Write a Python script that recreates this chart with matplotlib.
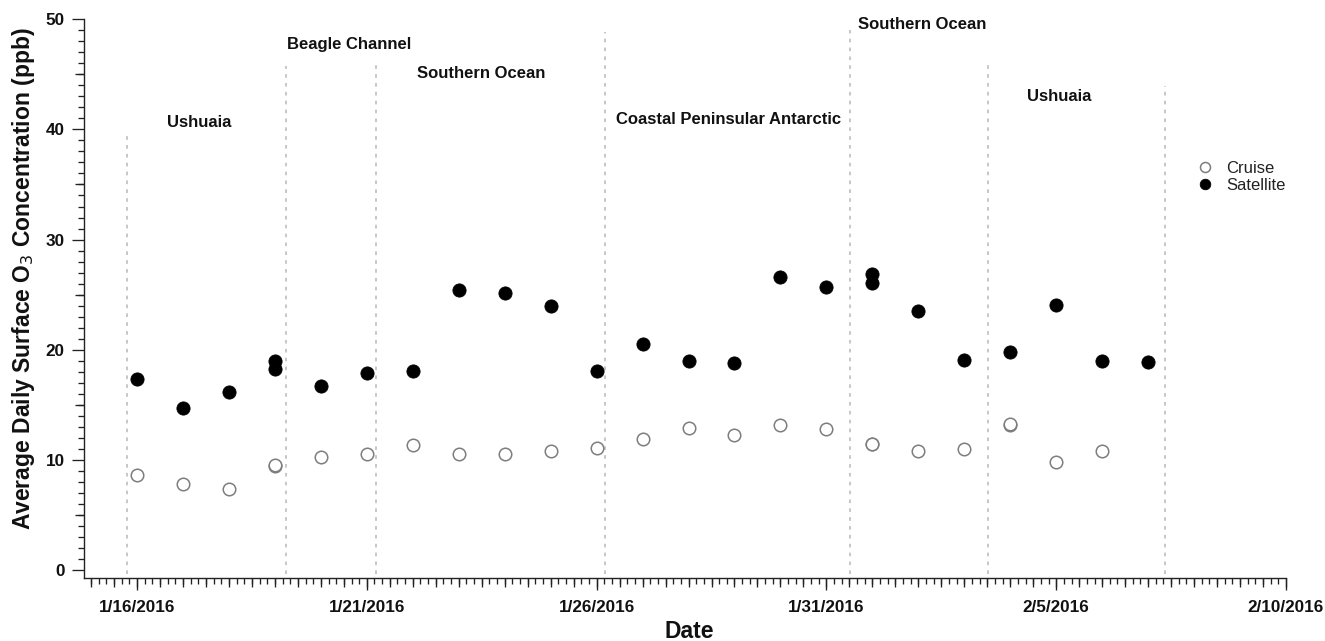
import numpy as np
import matplotlib
matplotlib.use("Agg")
import matplotlib.pyplot as plt
import matplotlib.dates as mdates
from matplotlib.ticker import FixedLocator, MultipleLocator, NullFormatter

plt.rcParams['font.family'] = ['Liberation Sans', 'DejaVu Sans']

# ---- data -------------------------------------------------------------
sat_dates = ['2016-01-16', '2016-01-17', '2016-01-18', '2016-01-19', '2016-01-19',
             '2016-01-20', '2016-01-21', '2016-01-22', '2016-01-23', '2016-01-24',
             '2016-01-25', '2016-01-26', '2016-01-27', '2016-01-28', '2016-01-29',
             '2016-01-30', '2016-01-31', '2016-02-01', '2016-02-01', '2016-02-02',
             '2016-02-03', '2016-02-04', '2016-02-05', '2016-02-06', '2016-02-07']
sat_o3 = [17.4, 14.7, 16.2, 19.0, 18.3,
          16.7, 17.9, 18.1, 25.4, 25.2,
          24.0, 18.1, 20.5, 19.0, 18.8,
          26.6, 25.7, 26.9, 26.1, 23.5,
          19.1, 19.8, 24.1, 19.0, 18.9]

cruise_dates = ['2016-01-16', '2016-01-17', '2016-01-18', '2016-01-19', '2016-01-19',
                '2016-01-20', '2016-01-21', '2016-01-22', '2016-01-23', '2016-01-24',
                '2016-01-25', '2016-01-26', '2016-01-27', '2016-01-28', '2016-01-29',
                '2016-01-30', '2016-01-31', '2016-02-01', '2016-02-01', '2016-02-02',
                '2016-02-03', '2016-02-04', '2016-02-04', '2016-02-05', '2016-02-06']
cruise_o3 = [8.7, 7.85, 7.4, 9.5, 9.55,
             10.25, 10.55, 11.4, 10.55, 10.6,
             10.8, 11.15, 11.95, 12.95, 12.25,
             13.2, 12.8, 11.45, 11.5, 10.8,
             11.0, 13.2, 13.25, 9.85, 10.85]

# region boundaries (dashed lines) and their heights
boundary_times = ['2016-01-15T19:00', '2016-01-19T06:00', '2016-01-21T05:00',
                  '2016-01-26T04:30', '2016-01-31T12:30', '2016-02-03T12:30',
                  '2016-02-07T08:40']
boundary_tops = [39.8, 45.7, 46.2, 48.8, 49.0, 46.3, 43.9]

# region names
region_names = ['Ushuaia', 'Beagle Channel', 'Southern Ocean',
                'Coastal Peninsular Antarctic', 'Southern Ocean', 'Ushuaia']
region_times = ['2016-01-16T15:40', '2016-01-19T06:10', '2016-01-22T02:00',
                '2016-01-26T10:20', '2016-01-31T16:20', '2016-02-04T08:40']
region_levels = [40.6, 47.7, 45.1, 40.9, 49.5, 43.0]

xtick_dates = ['2016-01-16', '2016-01-21', '2016-01-26', '2016-01-31',
               '2016-02-05', '2016-02-10']
xtick_labels = ['1/16/2016', '1/21/2016', '1/26/2016', '1/31/2016',
                '2/5/2016', '2/10/2016']
ytick_values = [0, 10, 20, 30, 40, 50]


def to_num(seq):
    return mdates.date2num(np.array(seq, dtype='datetime64[m]'))


W, H = 1325, 641
fig = plt.figure(figsize=(W / 100, H / 100), dpi=100)
rect = [84 / W, 1 - 578 / H, (1286 - 84) / W, (578 - 19) / H]
ax = fig.add_axes(rect)

x_left = to_num(['2016-01-16'])[0] - 1.154
x_right = to_num(['2016-02-10'])[0]
y_bottom, y_top = -0.68, 50

# dashed region boundaries
for t, top in zip(to_num(boundary_times), boundary_tops):
    ax.plot([t, t], [-0.3, top], color='#b8b8b8', lw=1.1,
            linestyle=(0, (2.4, 3.4)), zorder=1)

# region labels
for name, t, lev in zip(region_names, to_num(region_times), region_levels):
    ax.text(t, lev, name, ha='left', va='center', fontsize=12,
            fontweight='bold', color='#111111', clip_on=False)

cruise_line, = ax.plot(to_num(cruise_dates), cruise_o3, linestyle='none',
                       marker='o', markersize=9, markerfacecolor='white',
                       markeredgecolor='#7d7d7d', markeredgewidth=1.1,
                       zorder=3, label='Cruise')
sat_line, = ax.plot(to_num(sat_dates), sat_o3, linestyle='none',
                    marker='o', markersize=9.5, markerfacecolor='black',
                    markeredgecolor='black', markeredgewidth=0.6,
                    zorder=4, label='Satellite')

ax.set_xlim(x_left, x_right)
ax.set_ylim(y_bottom, y_top)

for side in ('top', 'right'):
    ax.spines[side].set_visible(False)
for side in ('left', 'bottom'):
    ax.spines[side].set_color('#222222')
    ax.spines[side].set_linewidth(1.0)

ax.xaxis.set_major_locator(FixedLocator(to_num(xtick_dates)))
ax.set_xticklabels(xtick_labels)
ax.xaxis.set_minor_locator(mdates.HourLocator(byhour=range(0, 24, 4)))
ax.yaxis.set_major_locator(FixedLocator(ytick_values))
ax.yaxis.set_minor_locator(MultipleLocator(1))

ax.tick_params(axis='both', which='major', length=8.3, width=0.95,
               color='#222222', labelsize=12.3, labelcolor='#111111')
ax.tick_params(axis='x', which='major', pad=7.5)
ax.tick_params(axis='y', which='major', pad=5.5)
ax.tick_params(axis='both', which='minor', length=4, width=0.95,
               color='#222222')
for lab in ax.get_xticklabels() + ax.get_yticklabels():
    lab.set_fontweight('bold')

# intermediate tick level: every 12 h on x, every 5 ppb on y
ax2 = fig.add_axes(rect, frameon=False)
ax2.xaxis_date()
ax2.set_xlim(x_left, x_right)
ax2.set_ylim(y_bottom, y_top)
ax2.xaxis.set_major_locator(mdates.HourLocator(byhour=[0, 12]))
ax2.yaxis.set_major_locator(FixedLocator([5, 15, 25, 35, 45]))
ax2.xaxis.set_major_formatter(NullFormatter())
ax2.yaxis.set_major_formatter(NullFormatter())
ax2.tick_params(axis='both', which='major', length=6.3, width=0.95,
                color='#222222')
ax2.patch.set_visible(False)

# legend
ax.legend(handles=[cruise_line, sat_line], loc='center left',
          bbox_to_anchor=(1197 / W, 1 - 177 / H), bbox_transform=fig.transFigure,
          frameon=False, fontsize=12, handlelength=1.0, handletextpad=0.75,
          labelspacing=0.12, markerscale=0.8, borderpad=0, borderaxespad=0,
          labelcolor='#222222')

fig.text(24 / W, 1 - 279 / H,
         'Average Daily Surface O$_3$ Concentration (ppb)',
         rotation=90, ha='center', va='center', fontsize=16.5,
         fontweight='bold', color='#111111')
fig.text(689 / W, 1 - 632 / H, 'Date', ha='center', va='center',
         fontsize=16.5, fontweight='bold', color='#111111')

fig.savefig('out.png', dpi=100)
